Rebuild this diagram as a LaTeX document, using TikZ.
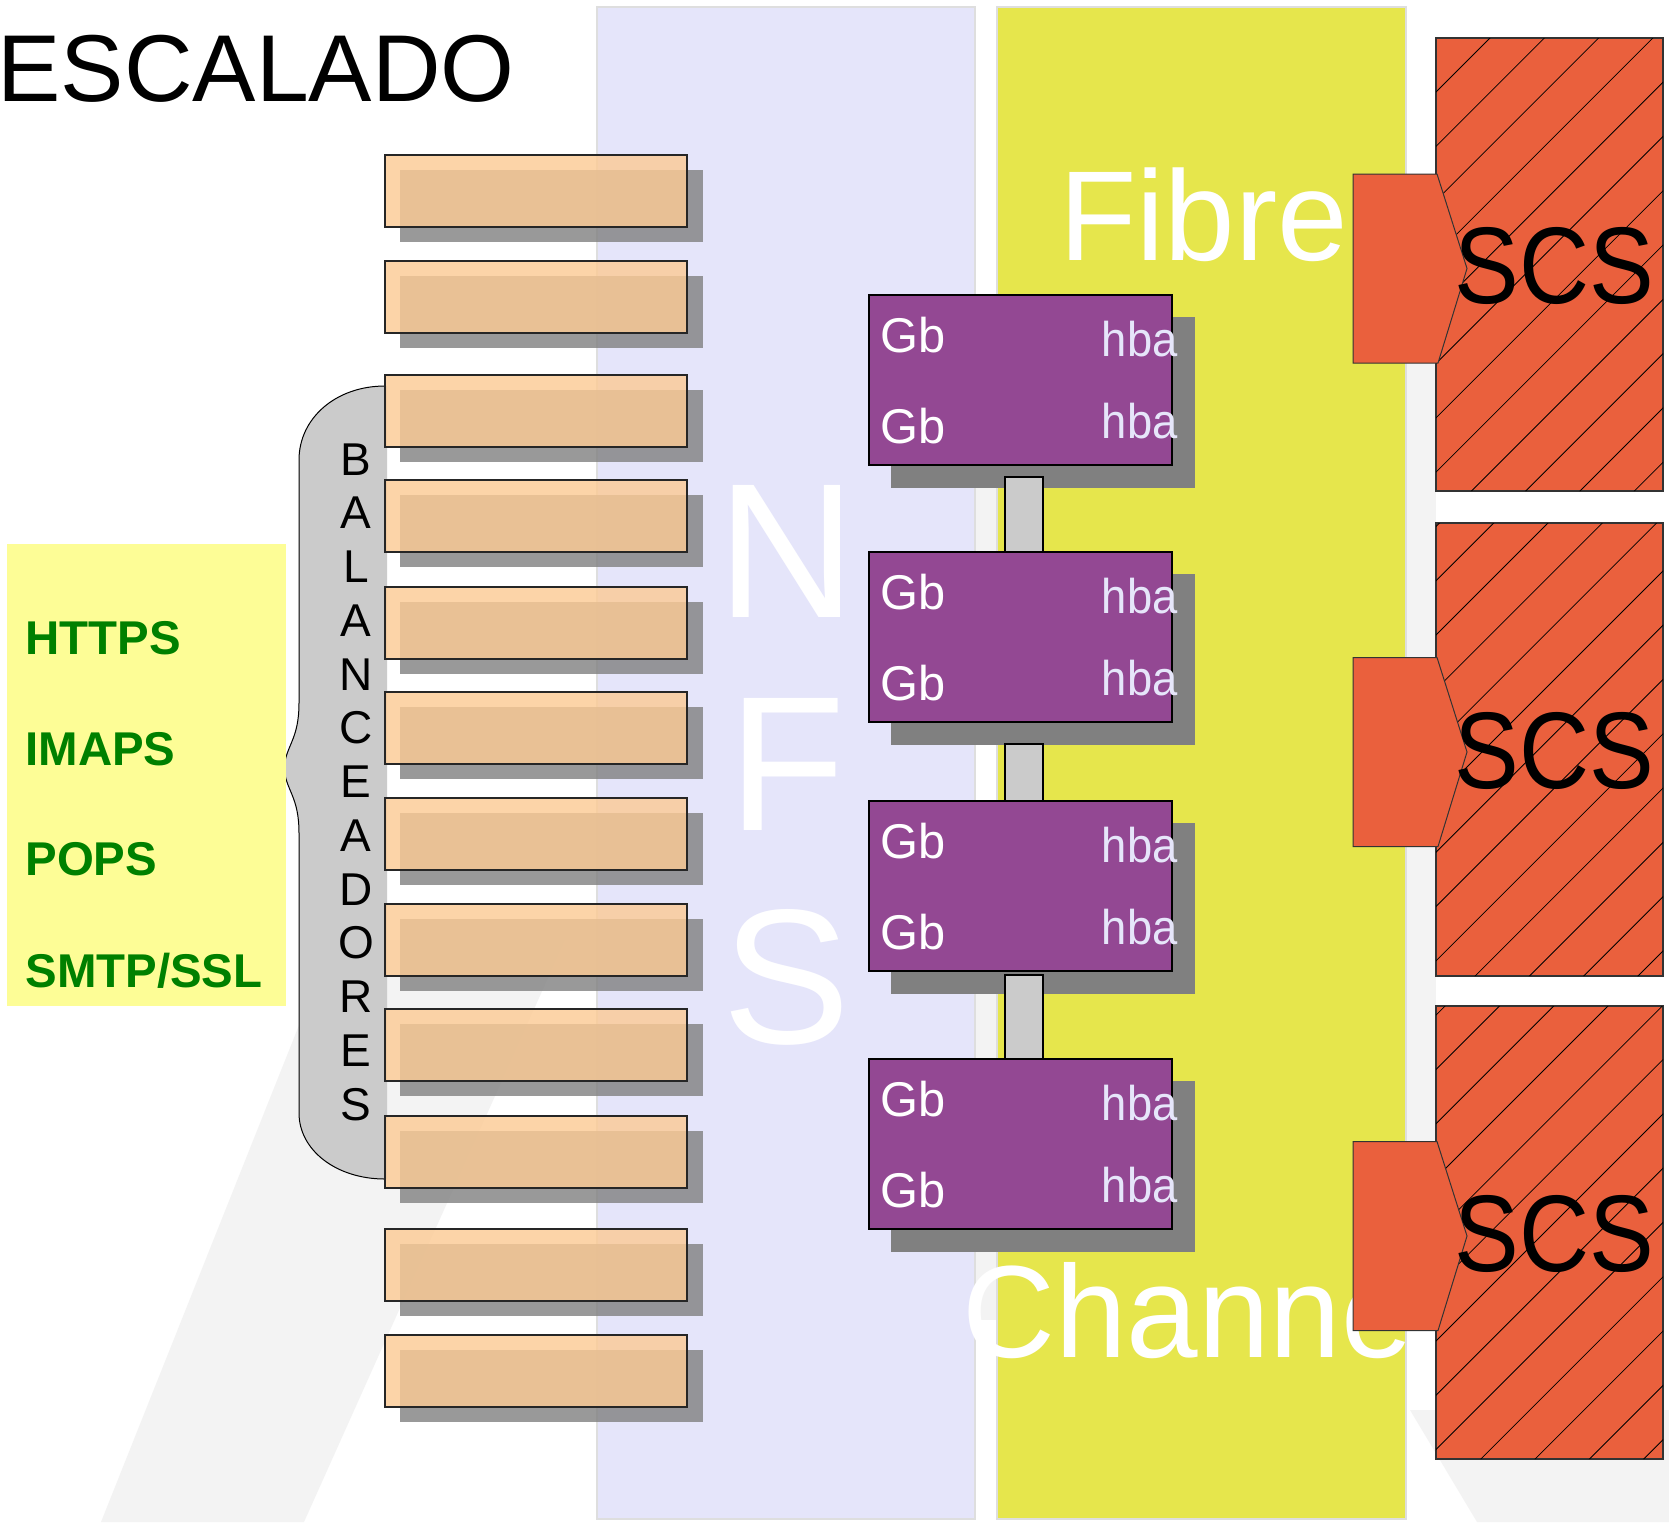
\documentclass[tikz,border=0pt]{standalone}
\usepackage{fontspec}
\setmainfont{Liberation Sans}
\usetikzlibrary{calc}
\definecolor{lav}{RGB}{229,229,250}
\definecolor{fibrecol}{RGB}{230,230,76}
\definecolor{peach}{RGB}{252,203,149}
\definecolor{purp}{RGB}{147,72,147}
\definecolor{scsred}{RGB}{234,96,61}
\definecolor{proyel}{RGB}{253,253,150}
\definecolor{progreen}{RGB}{0,128,0}
\definecolor{bracegrey}{RGB}{203,203,203}
\definecolor{wmgrey}{RGB}{243,243,243}
\definecolor{hbacol}{RGB}{230,230,250}
\tikzset{
  wm/.style={fill=wmgrey},
  colbox/.style={anchor=north west, inner sep=0, outer sep=0, draw=black!13, line width=0.6pt},
  obox/.style={anchor=north west, inner sep=0, outer sep=0, minimum width=151pt, minimum height=36pt, draw=black!85, line width=0.6pt, fill=peach, fill opacity=0.81},
  oshadow/.style={fill=gray, fill opacity=0.8},
  pbox/.style={anchor=north west, inner sep=0, outer sep=0, minimum width=151.5pt, minimum height=85pt, draw=black, line width=0.6pt, fill=purp},
  pshadow/.style={fill=gray},
  linkbar/.style={fill=bracegrey, draw=black, line width=0.6pt},
  scsbox/.style={anchor=north west, inner sep=0, outer sep=0, minimum width=113.5pt, minimum height=226.5pt, draw=black!80, line width=0.6pt, fill=scsred},
  plug/.style={fill=scsred, draw=black!80, line width=0.5pt},
  hatchline/.style={draw=black, line width=0.4pt},
  gbtext/.style={text=white, font=\fontsize{24.4}{29}\selectfont, anchor=base west, inner sep=0},
  hbatext/.style={text=hbacol, font=\fontsize{24.4}{29}\selectfont, anchor=base east, inner sep=0},
  baltext/.style={text=black, font=\fontsize{23}{28}\selectfont, anchor=base, inner sep=0},
  prottext/.style={text=progreen, font=\bfseries\fontsize{23.7}{28}\selectfont, anchor=base west, inner sep=0},
  nfsletter/.style={text=white, font=\fontsize{96}{110}\selectfont, anchor=base, inner sep=0},
  bigwhite/.style={text=white, anchor=base west, inner sep=0},
  scstext/.style={text=black, font=\fontsize{54.5}{60}\selectfont, anchor=base, inner sep=0},
}
\begin{document}
\begin{tikzpicture}[x=0.5pt,y=-0.5pt]
\useasboundingbox (0,0) rectangle (1669,1522);
\fill[white] (0,0) rectangle (1669,1522);

% faint watermark
\fill[wm] (101,1522) -- (304,1522) -- (565,940) -- (333,940) -- cycle;
\fill[wm] (975,430) rectangle (997,560);
\fill[wm] (975,900) rectangle (997,1320);
\fill[wm] (1406,360) rectangle (1436,1322);
\fill[wm] (1410,1410) -- (1669,1410) -- (1669,1522) -- (1477,1522) -- cycle;

% columns
\node[colbox, fill=lav, minimum width=189pt, minimum height=756pt] (nfs) at (597,7) {};
\node[colbox, fill=fibrecol, minimum width=204.5pt, minimum height=756pt] (fc) at (997,7) {};

% NFS letters
\node[nfsletter] (nfsN) at (787,617) {N};
\node[nfsletter] (nfsF) at (787,830) {F};
\node[nfsletter] (nfsS) at (787,1043) {S};

% title
\node[text=black, font=\fontsize{47.5}{55}\selectfont, anchor=base west, inner sep=0] (title) at (-3,101) {ESCALADO};

% balanceadores brace
\fill[bracegrey] (387,386) -- (385,386) .. controls (336,386) and (299,418) .. (299,460) -- (299,703)
  .. controls (299,740) and (286,745) .. (284,768) .. controls (286,791) and (299,796) .. (299,833)
  -- (299,1113) .. controls (299,1150) and (336,1179) .. (385,1179) -- (387,1179) -- cycle;
\draw[black, line width=0.5pt] (385,386) .. controls (336,386) and (299,418) .. (299,460) -- (299,703)
  .. controls (299,740) and (286,745) .. (284,768) .. controls (286,791) and (299,796) .. (299,833)
  -- (299,1113) .. controls (299,1150) and (336,1179) .. (385,1179);
\foreach \l [count=\i] in {B,A,L,A,N,C,E,A,D,O,R,E,S} {
  \node[baltext] (bal\i) at (356,{475+53.75*(\i-1)}) {\l};
}

% protocols box
\node[anchor=north west, inner sep=0, outer sep=0, fill=proyel, minimum width=139.5pt, minimum height=231pt] (proto) at (7,544) {};
\node[prottext] (https) at (25,654) {HTTPS};
\node[prottext] (imaps) at (25,765) {IMAPS};
\node[prottext] (pops) at (25,875) {POPS};
\node[prottext] (smtp) at (25,987) {SMTP/SSL};

% servers
\foreach \t [count=\i] in {155,261,375,480,587,692,798,904,1009,1116,1229,1335} {
  \fill[oshadow] (400,\t+15) rectangle (703,\t+87);
  \node[obox] (srv\i) at (385,\t) {};
}

% storage heads
\foreach \t in {295,552,801,1059} {
  \fill[pshadow] (891,\t+22) rectangle (1195,\t+193);
}
\node[pbox] (pb1) at (869,295) {};
\node[pbox] (pb2) at (869,552) {};
\node[pbox] (pb3) at (869,801) {};
\node[pbox] (pb4) at (869,1059) {};
\path[linkbar] ($(pb1.south west)+(136,12)$) rectangle ($(pb2.north west)+(174,0)$);
\path[linkbar] ($(pb2.south west)+(136,22)$) rectangle ($(pb3.north west)+(174,0)$);
\path[linkbar] ($(pb3.south west)+(136,4)$) rectangle ($(pb4.north west)+(174,0)$);
\foreach \i in {1,2,3,4} {
  \node[gbtext] (gba\i) at ($(pb\i.north west)+(11,57)$) {Gb};
  \node[gbtext] (gbb\i) at ($(pb\i.north west)+(11,148)$) {Gb};
  \node[hbatext] (hbaa\i) at ($(pb\i.north west)+(309,61)$) {\scalebox{0.93}[1]{hba}};
  \node[hbatext] (hbab\i) at ($(pb\i.north west)+(309,143)$) {\scalebox{0.93}[1]{hba}};
}

% Fibre Channel labels
\node[bigwhite, font=\fontsize{64}{70}\selectfont] (fibre) at (1059,260) {\scalebox{0.99}[1]{Fibre}};
\node[bigwhite, font=\fontsize{65.6}{72}\selectfont] (channel) at (962,1357) {\scalebox{0.98}[1]{Channel}};

% SCS storage
\node[scsbox] (scs1) at (1436,38) {};
\node[scsbox] (scs2) at (1436,523) {};
\node[scsbox] (scs3) at (1436,1006) {};
\begin{scope}
  \clip (scs1.north west) rectangle (scs1.south east)
        (scs2.north west) rectangle (scs2.south east)
        (scs3.north west) rectangle (scs3.south east);
  \foreach \k in {-2,...,32} {
    \draw[hatchline] ({1528+54.3*\k-1600},1600) -- ({1528+54.3*\k},0);
  }
\end{scope}
\foreach \i/\cy in {1/268.5,2/752,3/1236} {
  \draw[plug] (1353,\cy-94.5) -- (1437,\cy-94.5) -- (1467,\cy) -- (1438,\cy+94.5) -- (1353,\cy+94.5) -- cycle;
  \node[scstext] (scst\i) at ($(scs\i.center)+(5,38.5)$) {\scalebox{0.89}[1]{SCS}};
}
\end{tikzpicture}
\end{document}
